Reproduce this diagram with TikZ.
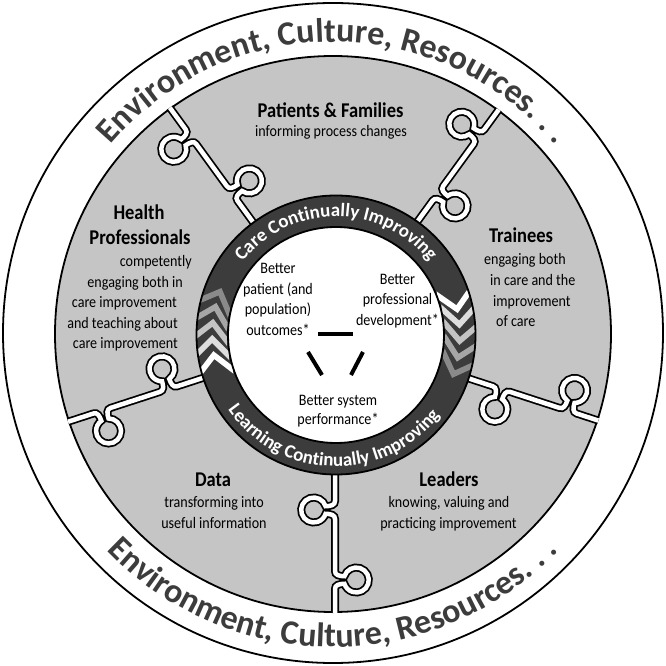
\documentclass[tikz,border=0pt]{standalone}
\usepackage{fontspec}
\setmainfont{Carlito}
\newfontfamily\condfont[FakeStretch=0.88]{Carlito}
\usetikzlibrary{decorations.text}
\definecolor{sectorgray}{HTML}{C5C5C5}
\definecolor{ringdark}{HTML}{3C3C3C}
\definecolor{outertext}{HTML}{3C3C3C}
\definecolor{chevA}{HTML}{8A8A8A}
\definecolor{chevB}{HTML}{A6A6A6}
\definecolor{chevC}{HTML}{C4C4C4}
\definecolor{chevD}{HTML}{DEDEDE}
\tikzset{
  heading/.style={font=\condfont\bfseries\fontsize{21}{24}\selectfont, anchor=base, inner sep=0pt},
  bodytxt/.style={font=\condfont\fontsize{16}{19}\selectfont, anchor=base, inner sep=0pt},
  divider/.style={draw=black, line width=1.75pt, double=white, double distance=4.5pt},
  outline/.style={draw=black, line width=1.8pt},
  centerbar/.style={line width=4pt, black},
}
\begin{document}
\begin{tikzpicture}[x=1pt,y=1pt]
\useasboundingbox (-333,-333) rectangle (333,333);
% outer band
\filldraw[fill=white, outline] (0,0) circle[radius=330];
% gray disc
\filldraw[fill=sectorgray, outline] (0,-1) circle[radius=278];
% puzzle dividers
\begin{scope}
  \clip (0,-1) circle[radius=279];
  \foreach \ang in {-90,-18,54,126,198}{
    \draw[divider, shift={(2,-2)}, rotate=\ang]
      (120,0) -- (166,0) .. controls (170,0) and (171.2,-4) .. (171.2,-9.4)
      arc[start angle=107.7, end angle=432.3, radius=12.5]
      .. controls (178.8,-4) and (180,0) .. (184,0)
      -- (236,0) .. controls (240,0) and (241.2,4) .. (241.2,9.4)
      arc[start angle=252.3, end angle=-72.3, radius=12.5]
      .. controls (248.8,4) and (250,0) .. (254,0)
      -- (300,0);
  }
\end{scope}
% dark ring
\fill[ringdark] (3,-2) circle[radius=139.5];
\begin{scope}
  \clip (3,-2) circle[radius=139.5];
  \foreach \ang/\col in {157.7/chevA, 165/chevB, 172.5/chevC, 180/chevD, 187.5/white,
                         10.2/white, 3/chevD, -4.6/chevC, -12.4/chevB, -20.3/chevA}{
    \fill[\col, shift={(3,-2)}, shift={(\ang:123.75)}, rotate=\ang-90]
      (0,0) -- (-17,17) -- (-25,17) -- (-8,0) -- (-25,-17) -- (-17,-17) -- cycle;
  }
\end{scope}
\fill[white] (3,-2) circle[radius=108];
\draw[outline] (3,-2) circle[radius=139.5];
\draw[outline] (3,-2) circle[radius=108];
% ring texts
\path[decorate, decoration={text along path, text align=center, text color=white,
  text={|\bfseries\fontsize{19}{22}\selectfont|Care Continually Improving}}]
  (3,-2) ++(170:118.5) arc[start angle=170, end angle=10, radius=118.5];
\path[decorate, decoration={text along path, text align=center, text color=white,
  text={|\bfseries\fontsize{19}{22}\selectfont|Learning Continually Improving}}]
  (3,-2) ++(180:131.5) arc[start angle=180, end angle=357, radius=131.5];
% outer texts
\path[decorate, decoration={text along path, text align=center, text color=outertext,
  text={|\bfseries\fontsize{34}{38}\selectfont|Environment, Culture, Resources. . .}}]
  (170:291) arc[start angle=170, end angle=10, radius=291];
\path[decorate, decoration={text along path, text align=center, text color=outertext,
  text={|\bfseries\fontsize{34}{38}\selectfont|Environment, Culture, Resources. . .}}]
  (190:314) arc[start angle=190, end angle=350, radius=314];
% center triangle bars
\coordinate (h1) at (-15,-1); \coordinate (h2) at (20,-1);
\coordinate (l1) at (-25,-19); \coordinate (l2) at (-11,-42);
\coordinate (r1) at (30,-19); \coordinate (r2) at (18,-42);
\draw[centerbar] (h1) -- (h2);
\draw[centerbar] (l1) -- (l2);
\draw[centerbar] (r1) -- (r2);
% inner texts
\node[bodytxt] (bp1) at (-55,59) {Better};
\node[bodytxt] (bp2) at (-55,38.5) {patient (and};
\node[bodytxt] (bp3) at (-55,18) {population)};
\node[bodytxt] (bp4) at (-55,-3) {outcomes*};
\node[bodytxt] (bd1) at (64.5,48) {Better};
\node[bodytxt] (bd2) at (64.5,28) {professional};
\node[bodytxt] (bd3) at (64.5,7) {development*};
\node[bodytxt] (bs1) at (5,-72) {Better system};
\node[bodytxt] (bs2) at (5,-92) {performance*};
% Patients & Families
\node[heading] (pf1) at (-2.5,215) {Patients \& Families};
\node[bodytxt] (pf2) at (-2,196) {informing process changes};
% Health Professionals
\node[heading] (hp1) at (-194,113) {Health};
\node[heading] (hp2) at (-193,88) {Professionals};
\node[bodytxt, anchor=base east] (hp3) at (-141,66) {competently};
\node[bodytxt, anchor=base east] (hp4) at (-150,45.5) {engaging both in};
\node[bodytxt, anchor=base east] (hp5) at (-156,25) {care improvement};
\node[bodytxt, anchor=base east] (hp6) at (-155,4.5) {and teaching about};
\node[bodytxt, anchor=base east] (hp7) at (-155,-16) {care improvement};
% Trainees
\node[heading] (tr1) at (188,90) {Trainees};
\node[bodytxt, anchor=base west] (tr2) at (151,68) {engaging both};
\node[bodytxt, anchor=base west] (tr3) at (157,47) {in care and the};
\node[bodytxt, anchor=base west] (tr4) at (160,26) {improvement};
\node[bodytxt, anchor=base west] (tr5) at (163,6) {of care};
% Data
\node[heading] (da1) at (-120,-153) {Data};
\node[bodytxt] (da2) at (-119,-174) {transforming into};
\node[bodytxt] (da3) at (-119,-195) {useful information};
% Leaders
\node[heading] (le1) at (116,-153) {Leaders};
\node[bodytxt] (le2) at (116,-174) {knowing, valuing and};
\node[bodytxt] (le3) at (115.5,-195) {practicing improvement};
\end{tikzpicture}
\end{document}
